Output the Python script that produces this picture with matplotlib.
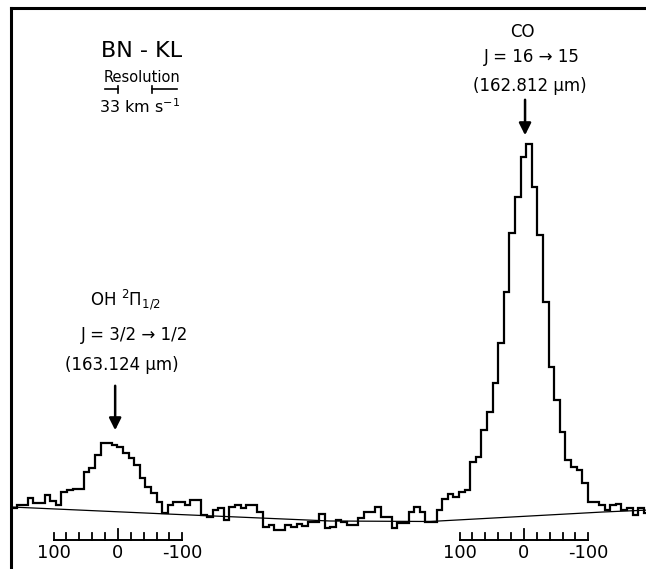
import numpy as np
import matplotlib.pyplot as plt

# Spectrum of BN-KL around 163 um, flux in arbitrary units per channel
flux = [1.2, 1.5, 1.5, 2.2, 1.7, 1.7, 2.5, 1.9, 1.5, 2.8,
        3.0, 3.1, 3.1, 4.8, 5.2, 6.5, 7.7, 7.7, 7.5, 7.3,
        6.7, 6.2, 5.5, 4.2, 3.3, 2.7, 1.8, 0.7, 1.5, 1.8,
        1.8, 1.5, 2.0, 2.0, 0.5, 0.3, 1.0, 1.2, 0.0, 1.3,
        1.5, 1.2, 1.5, 1.5, 0.8, -0.7, -0.5, -1.0, -1.0, -0.5,
        -0.7, -0.4, -0.6, -0.2, -0.2, 0.6, -0.8, -0.7, 0.0, -0.2,
        -0.5, -0.5, 0.2, 0.8, 0.8, 1.3, 0.3, 0.3, -0.8, -0.3,
        -0.3, 0.8, 1.3, 0.8, -0.2, -0.2, 1.0, 2.1, 2.6, 2.3,
        2.8, 3.0, 5.8, 6.3, 9.0, 10.8, 13.7, 17.7, 22.8, 28.7,
        32.3, 36.3, 37.6, 33.3, 28.5, 21.8, 15.3, 12.0, 8.8, 6.0,
        5.3, 5.0, 3.7, 1.8, 1.8, 1.5, 1.0, 1.5, 1.6, 1.0,
        1.2, 0.5, 1.2, 0.7]

# fitted continuum (channel, flux)
base_chan = [0, 27.9, 57, 74.8, 105.7, 114]
base_flux = [1.3, 0.6, -0.1, -0.15, 0.8, 1.0]

# line centres (channel) and velocity scale
oh_chan = 19.1
co_chan = 91.6
chan_per_kms = 0.115
vel_ticks = np.arange(-100, 101, 20)
vel_labels = {100: '100', 0: '0', -100: '-100'}

fig = plt.figure(figsize=(6.46, 5.69), dpi=100)
ax = fig.add_axes([11 / 646, 0, 1 - 11 / 646, 1 - 8 / 569])

edges = np.arange(len(flux) + 1)
ax.stairs(flux, edges, color='black', lw=1.6, baseline=None)
ax.plot(base_chan, base_flux, color='black', lw=0.9)

# velocity scales below each line
for c0 in [oh_chan, co_chan]:
    xs = c0 - vel_ticks * chan_per_kms
    ax.plot([xs.min(), xs.max()], [-2.0, -2.0], color='black', lw=1.4)
    for v, x in zip(vel_ticks, xs):
        h = 1.1 if v == 0 else 0.7
        ax.plot([x, x], [-2.0, -2.0 + h], color='black', lw=1.3)
        if v in vel_labels:
            ax.text(x, -3.3, vel_labels[v], ha='center', va='center', fontsize=13)

# source name and resolution
ax.text(23.4, 46.9, 'BN - KL', ha='center', va='center', fontsize=16)
ax.text(23.4, 44.3, 'Resolution', ha='center', va='center', fontsize=10.5)
ax.plot([16.8, 19.1], [43.1, 43.1], color='black', lw=1.2)
ax.plot([19.1, 19.1], [42.75, 43.45], color='black', lw=1.2)
ax.plot([25.2, 29.6], [43.1, 43.1], color='black', lw=1.2)
ax.plot([25.2, 25.2], [42.75, 43.45], color='black', lw=1.2)
ax.text(22.9, 41.3, r'33 km s$^{-1}$', ha='center', va='center', fontsize=11.5)

# OH line
ax.text(20.4, 22.0, r'OH $^{2}\Pi_{1/2}$', ha='center', va='center', fontsize=12)
ax.text(22.0, 18.5, 'J = 3/2 → 1/2', ha='center', va='center', fontsize=12)
ax.text(19.8, 15.5, '(163.124 μm)', ha='center', va='center', fontsize=12)
ax.annotate('', xy=(18.6, 8.7), xytext=(18.6, 13.7),
            arrowprops=dict(arrowstyle='-|>', color='black', lw=1.8, mutation_scale=18))

# CO line
ax.text(91.3, 48.8, 'CO', ha='center', va='center', fontsize=12)
ax.text(93.0, 46.3, 'J = 16 → 15', ha='center', va='center', fontsize=12)
ax.text(92.7, 43.4, '(162.812 μm)', ha='center', va='center', fontsize=12)
ax.annotate('', xy=(91.8, 38.2), xytext=(91.8, 42.3),
            arrowprops=dict(arrowstyle='-|>', color='black', lw=1.8, mutation_scale=18))

ax.set_xlim(0, 113.4)
ax.set_ylim(-4.9, 51.2)
ax.set_xticks([])
ax.set_yticks([])
for s in ['right', 'bottom']:
    ax.spines[s].set_visible(False)
for s in ['left', 'top']:
    ax.spines[s].set_linewidth(2.2)

fig.savefig('out.png', dpi=100)
